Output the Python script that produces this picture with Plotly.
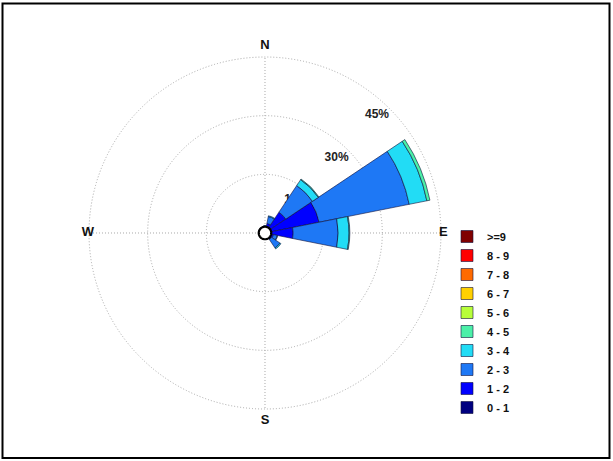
import plotly.graph_objects as go

# Wind direction sectors (degrees, clockwise from north)
directions = [0, 22.5, 45, 67.5, 90, 112.5, 135, 157.5,
              180, 202.5, 225, 247.5, 270, 292.5, 315, 337.5]

# Speed classes (m/s) and their frequency contribution (%) per direction
speed_bins = ["0 - 1", "1 - 2", "2 - 3", "3 - 4", "4 - 5",
              "5 - 6", "6 - 7", "7 - 8", "8 - 9", ">=9"]
freq_0_1 = [0.6, 0.8, 1.0, 1.0, 1.0, 0.8, 0.8, 0.5, 0.4, 0.4, 0.5, 0.5, 0.6, 0.5, 0.5, 0.5]
freq_1_2 = [0.6, 1.7, 5.4, 13.1, 6.2, 1.4, 1.2, 0.5, 0.3, 0.3, 0.4, 0.5, 0.6, 0.6, 0.6, 0.5]
freq_2_3 = [0.6, 1.8, 8.2, 23.5, 11.5, 1.0, 2.6, 0.3, 0.1, 0.1, 0.2, 0.3, 0.4, 0.5, 0.5, 0.4]
freq_3_4 = [0.1, 0.2, 1.8, 4.6, 2.8, 0.1, 0.3, 0.0, 0.0, 0.0, 0.0, 0.0, 0.0, 0.1, 0.1, 0.1]
freq_4_5 = [0.0, 0.0, 0.2, 0.8, 0.2, 0.0, 0.0, 0.0, 0.0, 0.0, 0.0, 0.0, 0.0, 0.0, 0.0, 0.0]
freq_5_6 = [0.0] * 16
freq_6_7 = [0.0] * 16
freq_7_8 = [0.0] * 16
freq_8_9 = [0.0] * 16
freq_9_up = [0.0] * 16

# Grid rings (%)
ring_values = [15, 30, 45]
ring_labels = ["15%", "30%", "45%"]

# Compass labels
compass_angles = [0, 90, 180, 270]
compass_labels = ["N", "E", "S", "W"]

frequencies = [freq_0_1, freq_1_2, freq_2_3, freq_3_4, freq_4_5,
               freq_5_6, freq_6_7, freq_7_8, freq_8_9, freq_9_up]
colors = ["#000080", "#0000ff", "#1e78f5", "#22dcf5", "#4cf0a8",
          "#b8ff3a", "#ffd000", "#ff6a00", "#ff0000", "#800000"]

FONT = "Liberation Sans, Arial, sans-serif"
GRID = "#a8a8a8"
DOTS = "1px,2px"
calm_radius = 1.6
outer_ring = ring_values[-1]
r_max = 49.0            # radial range leaves room for the compass letters
label_inset = 3.4       # ring labels sit slightly inside their ring
label_bearing = 43.5    # bearing of the ring labels (deg)
# radial placement of the compass letters (N, E, S, W), in % units
compass_radius = {"N": 47.8, "E": 45.6, "S": 48.0, "W": 45.3}

fig = go.Figure()

# Cross-hair spokes N-S and E-W, limited to the outer ring
spoke_r, spoke_theta = [], []
for ang in compass_angles:
    spoke_r += [0, outer_ring, None]
    spoke_theta += [ang, ang, None]
fig.add_trace(go.Scatterpolar(
    r=spoke_r, theta=spoke_theta, mode="lines",
    line=dict(color=GRID, width=1, dash=DOTS),
    subplot="polar", showlegend=False, hoverinfo="skip",
))

# Ring labels live on the lower polar subplot so the bars can cover them
fig.add_trace(go.Scatterpolar(
    r=[v - label_inset for v in ring_values],
    theta=[label_bearing] * len(ring_values),
    text=ring_labels,
    mode="text",
    textfont=dict(size=12, family=FONT, color="#222222", weight="bold"),
    subplot="polar",
    showlegend=False,
    hoverinfo="skip",
))

# Compass letters around the outer ring
fig.add_trace(go.Scatterpolar(
    r=[compass_radius[c] for c in compass_labels],
    theta=compass_angles,
    text=compass_labels,
    mode="text",
    cliponaxis=False,
    textfont=dict(size=13, family=FONT, color="#111111", weight="bold"),
    subplot="polar",
    showlegend=False,
    hoverinfo="skip",
))

for label, values, color in zip(speed_bins, frequencies, colors):
    fig.add_trace(go.Barpolar(
        r=values,
        theta=directions,
        name=label,
        marker=dict(color=color, line=dict(color="#10103a", width=0.6)),
        width=22.5,
        subplot="polar2",
    ))

# Calm circle in the middle of the rose
circle_theta = list(range(0, 361, 5))
fig.add_trace(go.Scatterpolar(
    r=[calm_radius] * len(circle_theta),
    theta=circle_theta,
    mode="lines",
    fill="toself",
    fillcolor="white",
    line=dict(color="black", width=2.2),
    subplot="polar2",
    showlegend=False,
    hoverinfo="skip",
))

W, H = 613, 461
cx, cy = 265, 233
rad = 176 * r_max / outer_ring
domain = dict(x=[(cx - rad) / W, (cx + rad) / W],
              y=[(H - cy - rad) / H, (H - cy + rad) / H])

fig.update_layout(
    width=W, height=H,
    margin=dict(l=0, r=0, t=0, b=0),
    paper_bgcolor="white",
    font=dict(family=FONT, color="black"),
    polar=dict(
        domain=domain,
        bgcolor="white",
        radialaxis=dict(
            range=[0, r_max],
            tickvals=ring_values,
            showticklabels=False,
            showline=False,
            ticks="",
            showgrid=True,
            gridcolor=GRID,
            griddash=DOTS,
            gridwidth=1,
        ),
        angularaxis=dict(
            rotation=90,
            direction="clockwise",
            showticklabels=False,
            ticks="",
            showline=False,
            showgrid=False,
        ),
    ),
    polar2=dict(
        domain=domain,
        bgcolor="rgba(0,0,0,0)",
        barmode="stack",
        radialaxis=dict(range=[0, r_max], showgrid=False, showline=False,
                        showticklabels=False, ticks=""),
        angularaxis=dict(rotation=90, direction="clockwise", showgrid=False,
                         showline=False, showticklabels=False, ticks=""),
    ),
    legend=dict(
        x=447 / W, y=1 - 222 / H,
        xanchor="left", yanchor="top",
        traceorder="reversed",
        font=dict(size=11, family=FONT, color="#111111", weight="bold"),
        bgcolor="rgba(0,0,0,0)",
        itemwidth=30,
    ),
    shapes=[dict(
        type="rect", xref="paper", yref="paper",
        x0=2.5 / W, x1=609.5 / W, y0=1 - 458 / H, y1=1 - 3.5 / H,
        line=dict(color="black", width=2),
    )],
)

fig.write_html("out.html")
